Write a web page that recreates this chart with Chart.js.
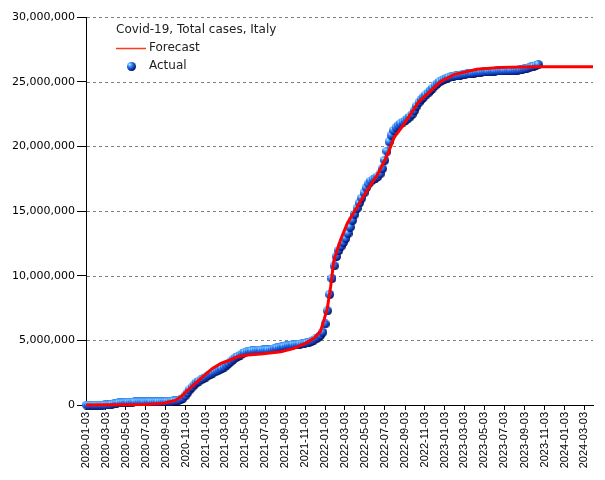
<!DOCTYPE html>
<html>
<head>
<meta charset="utf-8">
<title>Covid-19, Total cases, Italy</title>
<script src="https://cdn.jsdelivr.net/npm/chart.js@4.4.1/dist/chart.umd.min.js"></script>
<style>
  html, body { margin: 0; padding: 0; background: #fff; }
  canvas { display: block; }
</style>
</head>
<body>
<canvas id="chart" width="605" height="480"></canvas>
<script>
const chartTitle = 'Covid-19, Total cases, Italy';
const seriesNames = ['Forecast', 'Actual'];

// x tick labels (every two months)
const tickLabels = [
  '2020-01-03', '2020-03-03', '2020-05-03', '2020-07-03', '2020-09-03', '2020-11-03',
  '2021-01-03', '2021-03-03', '2021-05-03', '2021-07-03', '2021-09-03', '2021-11-03',
  '2022-01-03', '2022-03-03', '2022-05-03', '2022-07-03', '2022-09-03', '2022-11-03',
  '2023-01-03', '2023-03-03', '2023-05-03', '2023-07-03', '2023-09-03', '2023-11-03',
  '2024-01-03', '2024-03-03'
];
const axisStart = '2020-01-03';
const axisEnd = '2024-03-30';
const yTicks = [0, 5000000, 10000000, 15000000, 20000000, 25000000, 30000000];

// actual totals, weekly, in thousands
const actualStart = '2020-01-05';
const actualStepDays = 7;
const actualValues = [
  0, 0, 0, 0, 0, 0, 0, 0, 1.7, 7.4, 24.7, 59.1, 97.7, 128.9, 156.4, 179, 197.7,
  210.7, 219.1, 225.4, 229.9, 233, 235, 237, 238.5, 240.1, 241.6, 243.1, 244.4, 246.1,
  248.1, 250.6, 253.9, 259.3, 268, 277.6, 287.8, 298.2, 309.9, 325.3, 355, 414.2, 525.8,
  709.3, 935.1, 1178.5, 1380.5, 1564.5, 1728.9, 1843.7, 1953.2, 2047.7,
  2155.4, 2276.5, 2381.3, 2466.8, 2553, 2636.7, 2729.2, 2818.9, 2925.3, 3067.5, 3223.1,
  3376.4, 3527, 3650.2, 3754.1, 3857.4, 3962.7, 4059.8, 4123, 4167, 4197, 4217.8, 4232,
  4243, 4249.8, 4254, 4260, 4269, 4288, 4323, 4367, 4413, 4454, 4496, 4535, 4571, 4603,
  4629, 4654, 4675, 4694, 4715, 4737, 4765, 4803, 4860, 4928, 5007, 5107, 5230, 5388, 5625,
  6266, 7280, 8550, 9780, 10760, 11480, 11950, 12270, 12560, 12870, 13260, 13750, 14280,
  14760, 15210, 15620, 16000, 16410, 16800, 17100, 17310, 17440, 17540, 17660, 17870, 18270,
  18920, 19620, 20350, 20860, 21220, 21460, 21620, 21760, 21880, 21990, 22120, 22270, 22470,
  22760, 23110, 23400, 23630, 23800, 23970, 24130, 24320, 24510, 24690, 24850, 24990, 25100,
  25190, 25280, 25340, 25380, 25420, 25450, 25480, 25510, 25540, 25570, 25600, 25630, 25650,
  25670, 25690, 25710, 25730, 25750, 25770, 25790, 25800, 25810, 25820, 25830, 25840, 25845,
  25850, 25855, 25860, 25870, 25880, 25890, 25900, 25920, 25950, 25990, 26030, 26080, 26140,
  26200, 26260, 26320
];

// forecast curve, in thousands
const forecastDates = [
  '2020-01-03', '2020-07-01', '2020-08-28', '2020-10-01', '2020-10-19', '2020-11-18',
  '2020-12-19', '2021-01-23', '2021-02-18', '2021-03-10', '2021-04-09', '2021-05-10',
  '2021-06-20', '2021-08-20', '2021-09-29', '2021-11-01', '2021-11-29', '2021-12-19',
  '2021-12-30', '2022-01-09', '2022-01-19', '2022-01-29', '2022-02-18', '2022-03-11',
  '2022-04-12', '2022-05-11', '2022-06-13', '2022-07-14', '2022-08-01', '2022-08-25',
  '2022-09-20', '2022-10-15', '2022-11-15', '2022-12-20', '2023-01-30', '2023-04-11',
  '2023-06-20', '2023-10-01', '2024-03-30'
];
const forecastValues = [
  0, 40, 130, 350, 640, 1370,
  2060, 2830, 3220, 3400, 3730, 3870,
  3950, 4120, 4380, 4750, 5160, 5700,
  6600, 7500, 9150, 11200, 12760, 14050,
  15400, 16620, 17900, 19500, 20700, 21500,
  22500, 23450, 24150, 25000, 25550, 25960,
  26100, 26150, 26150
];

const DAY = 86400000;
function dayOf(s) {
  const [y, m, d] = s.split('-').map(Number);
  return (Date.UTC(y, m - 1, d) - Date.UTC(2020, 0, 3)) / DAY;
}

const tickDays = tickLabels.map(dayOf);
const actualOffset = dayOf(actualStart);
const actualData = actualValues.map((v, i) => ({ x: actualOffset + i * actualStepDays, y: v * 1000 }));
const forecastData = forecastDates.map((d, i) => ({ x: dayOf(d), y: forecastValues[i] * 1000 }));

// shaded ball used for the actual points (light top-left, dark bottom-right)
function makeBall(size) {
  const c = document.createElement('canvas');
  c.width = size;
  c.height = size;
  const g = c.getContext('2d');
  const r = size / 2;
  const grad = g.createRadialGradient(r * 0.6, r * 0.55, 0, r * 0.7, r * 0.65, size * 0.75);
  grad.addColorStop(0, '#e4f7ff');
  grad.addColorStop(0.18, '#5cb6ff');
  grad.addColorStop(0.45, '#2468e8');
  grad.addColorStop(0.75, '#0c2ea2');
  grad.addColorStop(1, '#00002a');
  g.fillStyle = grad;
  g.beginPath();
  g.arc(r, r, r, 0, Math.PI * 2);
  g.fill();
  return c;
}
const ball = makeBall(9);

const gridAndLegend = {
  id: 'gridAndLegend',
  beforeDatasetsDraw(chart) {
    const { ctx, chartArea, scales } = chart;
    ctx.save();
    ctx.strokeStyle = '#808080';
    ctx.lineWidth = 1;
    ctx.setLineDash([3, 3]);
    yTicks.forEach(v => {
      if (v === 0) return;
      const y = Math.round(scales.y.getPixelForValue(v)) + 0.5;
      ctx.beginPath();
      ctx.moveTo(chartArea.left + 1, y);
      ctx.lineTo(chartArea.right, y);
      ctx.stroke();
    });
    ctx.restore();
  },
  afterDraw(chart) {
    const ctx = chart.ctx;
    ctx.save();
    ctx.font = '12px "DejaVu Sans"';
    ctx.fillStyle = '#222';
    ctx.textBaseline = 'middle';
    ctx.fillText(chartTitle, 116, 30);
    ctx.strokeStyle = '#ff3a1a';
    ctx.lineWidth = 1.5;
    ctx.beginPath();
    ctx.moveTo(116, 48.5);
    ctx.lineTo(146, 48.5);
    ctx.stroke();
    ctx.fillText(seriesNames[0], 149, 48);
    ctx.drawImage(ball, 127, 62);
    ctx.fillText(seriesNames[1], 149, 66);
    ctx.restore();
  }
};

new Chart(document.getElementById('chart'), {
  type: 'scatter',
  data: {
    datasets: [{
      label: seriesNames[0],
      data: forecastData,
      showLine: true,
      borderColor: '#ff0000',
      borderWidth: 3,
      pointRadius: 0,
      tension: 0,
      order: 0,
      clip: false
    }, {
      label: seriesNames[1],
      data: actualData,
      showLine: false,
      pointStyle: ball,
      pointRadius: 4.5,
      order: 1,
      clip: false
    }]
  },
  plugins: [gridAndLegend],
  options: {
    responsive: false,
    animation: false,
    devicePixelRatio: 1,
    layout: { padding: { top: 17, right: 12, left: 0, bottom: 0 } },
    plugins: { legend: { display: false }, tooltip: { enabled: false } },
    scales: {
      x: {
        type: 'linear',
        min: 0,
        max: dayOf(axisEnd),
        afterBuildTicks(scale) {
          scale.ticks = tickDays.map(v => ({ value: v }));
        },
        afterFit(scale) { scale.height = 75; },
        ticks: {
          autoSkip: false,
          minRotation: 90,
          maxRotation: 90,
          padding: 2,
          color: '#000',
          font: { family: '"Liberation Sans", Arial, sans-serif', size: 11 },
          callback: (v) => {
            const i = tickDays.indexOf(v);
            return i >= 0 ? tickLabels[i] : '';
          }
        },
        grid: { drawOnChartArea: false, drawTicks: true, tickLength: 5, tickColor: '#000' },
        border: { display: true, color: '#000', width: 1 }
      },
      y: {
        min: 0,
        max: 30000000,
        afterBuildTicks(scale) {
          scale.ticks = yTicks.map(v => ({ value: v }));
        },
        afterFit(scale) { scale.width = 86; },
        ticks: {
          padding: 2,
          color: '#000',
          font: { family: '"DejaVu Sans", sans-serif', size: 11 },
          callback: (v) => v.toLocaleString('en-US')
        },
        grid: { drawOnChartArea: false, drawTicks: true, tickLength: 9, tickColor: '#000' },
        border: { display: true, color: '#000', width: 1 }
      }
    }
  }
});
</script>
</body>
</html>
